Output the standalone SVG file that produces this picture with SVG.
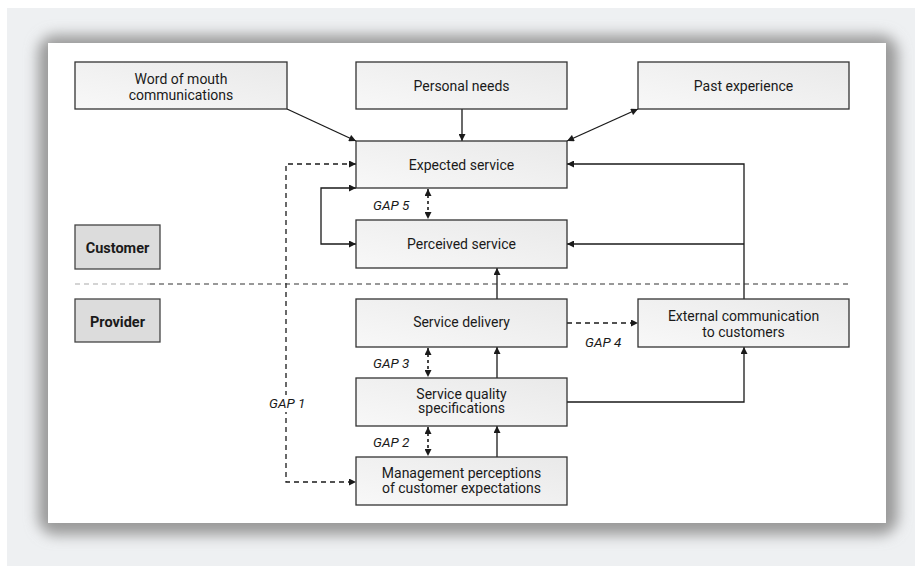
<svg xmlns="http://www.w3.org/2000/svg" width="915" height="566" viewBox="0 0 915 566">
<defs>
<linearGradient id="boxg" x1="0" y1="1" x2="1" y2="0">
<stop offset="0" stop-color="#f8f8f8"/>
<stop offset="1" stop-color="#e9e9e9"/>
</linearGradient>
<filter id="blur" x="-10%" y="-10%" width="120%" height="120%">
<feGaussianBlur stdDeviation="7"/>
</filter>
<marker id="ah" viewBox="0 0 10 10" refX="10" refY="5" markerWidth="8" markerHeight="7" markerUnits="userSpaceOnUse" orient="auto-start-reverse">
<path d="M0,0 L10,5 L0,10 z" fill="#1a1a1a"/>
</marker>
</defs>
<style>
.box{fill:url(#boxg);stroke:#333;stroke-width:1.3}
.lab{fill:#dcdcdc;stroke:#444;stroke-width:1.3}
.t{font-family:Roboto,"Liberation Sans",sans-serif;font-size:14px;fill:#1a1a1a;text-anchor:middle}
.b{font-family:Roboto,"Liberation Sans",sans-serif;font-size:14.5px;font-weight:bold;fill:#1a1a1a;text-anchor:middle}
.g{font-family:Roboto,"Liberation Sans",sans-serif;font-size:13.5px;font-style:italic;fill:#1a1a1a}
.c{fill:none;stroke:#1a1a1a;stroke-width:1.3}
.d{fill:none;stroke:#1a1a1a;stroke-width:1.3;stroke-dasharray:5 4}
.ds{fill:none;stroke:#1a1a1a;stroke-width:1.6;stroke-dasharray:3 3}
</style>
<rect x="0" y="0" width="915" height="566" fill="#ffffff"/>
<rect x="7" y="8" width="908" height="558" fill="#eef0f2"/>
<rect x="38" y="35" width="860" height="500" rx="18" fill="#9a9a9a" filter="url(#blur)"/>
<rect x="48" y="43" width="838" height="480" fill="#ffffff"/>

<g id="connectors">
<line class="c" x1="287" y1="109" x2="356" y2="141" marker-end="url(#ah)"/>
<line class="c" x1="462" y1="109" x2="462" y2="141" marker-end="url(#ah)"/>
<line class="c" x1="567" y1="141" x2="638" y2="109" marker-start="url(#ah)" marker-end="url(#ah)"/>
<path class="d" d="M356,164 H286 V482 H356" marker-start="url(#ah)" marker-end="url(#ah)"/>
<path class="c" d="M356,188 H321 V244 H356" marker-start="url(#ah)" marker-end="url(#ah)"/>
<line class="ds" x1="428" y1="189" x2="428" y2="219" marker-start="url(#ah)" marker-end="url(#ah)"/>
<line class="ds" x1="428" y1="348" x2="428" y2="377" marker-start="url(#ah)" marker-end="url(#ah)"/>
<line class="ds" x1="428" y1="427" x2="428" y2="456" marker-start="url(#ah)" marker-end="url(#ah)"/>
<line class="c" x1="497" y1="299" x2="497" y2="268" marker-end="url(#ah)"/>
<line class="c" x1="497" y1="378" x2="497" y2="347" marker-end="url(#ah)"/>
<line class="c" x1="497" y1="457" x2="497" y2="426" marker-end="url(#ah)"/>
<path class="c" d="M567,402 H744 V347" marker-end="url(#ah)"/>
<path class="c" d="M744,299 V164 H567" marker-end="url(#ah)"/>
<line class="c" x1="744" y1="244" x2="567" y2="244" marker-end="url(#ah)"/>
<line class="d" x1="567" y1="323" x2="638" y2="323" marker-end="url(#ah)"/>
<line x1="75" y1="284" x2="150" y2="284" stroke="#aaa" stroke-width="1.2" stroke-dasharray="5 4"/>
<line x1="150" y1="284" x2="850" y2="284" stroke="#333" stroke-width="1.2" stroke-dasharray="5 4"/>
</g>

<g id="word-of-mouth">
<rect class="box" x="75" y="62" width="212" height="47"/>
<text class="t" x="181" y="84">Word of mouth</text>
<text class="t" x="181" y="100">communications</text>
</g>
<g id="personal-needs">
<rect class="box" x="356" y="62" width="211" height="47"/>
<text class="t" x="461.5" y="91">Personal needs</text>
</g>
<g id="past-experience">
<rect class="box" x="638" y="62" width="211" height="47"/>
<text class="t" x="743.5" y="91">Past experience</text>
</g>
<g id="expected-service">
<rect class="box" x="356" y="141" width="211" height="47"/>
<text class="t" x="461.5" y="170">Expected service</text>
</g>
<g id="perceived-service">
<rect class="box" x="356" y="220" width="211" height="48"/>
<text class="t" x="461.5" y="249">Perceived service</text>
</g>
<g id="customer">
<rect class="lab" x="75" y="225" width="85" height="44"/>
<text class="b" x="117.5" y="252.5">Customer</text>
</g>
<g id="provider">
<rect class="lab" x="75" y="299" width="85" height="43"/>
<text class="b" x="117.5" y="326.5">Provider</text>
</g>
<g id="service-delivery">
<rect class="box" x="356" y="299" width="211" height="48"/>
<text class="t" x="461.5" y="327">Service delivery</text>
</g>
<g id="external-communication">
<rect class="box" x="638" y="299" width="211" height="48"/>
<text class="t" x="743.5" y="321">External communication</text>
<text class="t" x="743.5" y="337">to customers</text>
</g>
<g id="service-quality-specifications">
<rect class="box" x="356" y="378" width="211" height="48"/>
<text class="t" x="461.5" y="398.5">Service quality</text>
<text class="t" x="461.5" y="413">specifications</text>
</g>
<g id="management-perceptions">
<rect class="box" x="356" y="457" width="211" height="48"/>
<text class="t" x="461.5" y="478">Management perceptions</text>
<text class="t" x="461.5" y="493">of customer expectations</text>
</g>
<g id="gap-labels">
<text class="g" x="373" y="209.5">GAP 5</text>
<text class="g" x="373" y="368">GAP 3</text>
<text class="g" x="373" y="447">GAP 2</text>
<rect x="268" y="395" width="40" height="17" fill="#ffffff"/>
<text class="g" x="269" y="408">GAP 1</text>
<text class="g" x="585" y="347">GAP 4</text>
</g>
</svg>
